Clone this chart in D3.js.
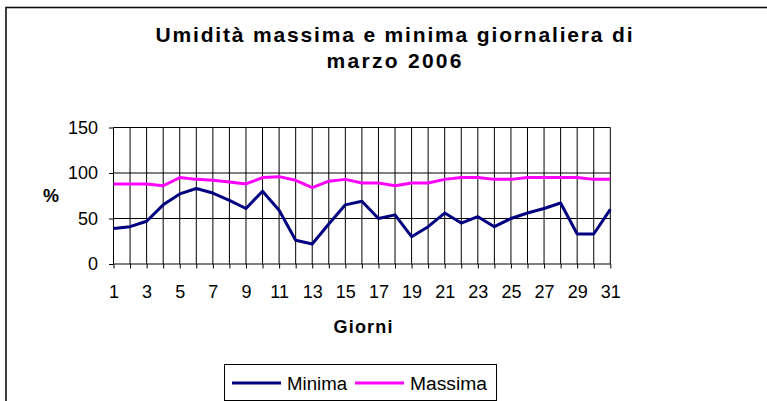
<!DOCTYPE html>
<html>
<head>
<meta charset="utf-8">
<script src="https://cdn.jsdelivr.net/npm/d3@7"></script>
<style>
    body { margin: 0; background: #fff; }
    svg { display: block; font-family: "Liberation Sans", Arial, sans-serif; }
    .axis text { font-size: 18px; fill: #000; }
    .axis line, .axis .domain { stroke: #000; }
    .grid line { stroke: #000; stroke-width: 1; }
    .line { fill: none; stroke-width: 3px; stroke-linejoin: round; }
    .title { font-size: 21px; font-weight: bold; text-anchor: middle; }
</style>
</head>
<body>
<svg id="chart" width="767" height="401"></svg>
<script>
// giorni di marzo 2006
const days = d3.range(1, 32);
const minima = [39, 41, 47, 65, 77, 83, 78, 70, 61, 80, 59, 26, 22, 44, 65, 69,
                50, 54, 30, 41, 56, 45, 52, 41, 50, 56, 61, 67, 33, 33, 60];
const massima = [88, 88, 88, 86, 95, 93, 92, 90, 88, 95, 96, 92, 84, 91, 93, 89,
                 89, 86, 89, 89, 93, 95, 95, 93, 93, 95, 95, 95, 95, 93, 93];
const yTicks = [0, 50, 100, 150];
const titleLines = ["Umidità massima e minima giornaliera di", "marzo 2006"];
const seriesNames = ["Minima", "Massima"];
const seriesColors = ["#000080", "#ff00ff"];

const svg = d3.select("#chart");

// outer frame (only top and left edges are in the picture)
svg.append("rect")
    .attr("x", 6).attr("y", 7.5)
    .attr("width", 900).attr("height", 600)
    .attr("fill", "none").attr("stroke", "#111").attr("stroke-width", 1.6);

const x = d3.scaleLinear().domain([1, 31]).range([113.5, 610.3]);
const y = d3.scaleLinear().domain([0, 150]).range([264, 127.5]);

// gridlines
const grid = svg.append("g").attr("class", "grid");
grid.selectAll("line.v").data(days.slice(1)).enter()
    .append("line").attr("class", "v")
    .attr("x1", d => x(d)).attr("x2", d => x(d))
    .attr("y1", y(150)).attr("y2", y(0));
grid.selectAll("line.h").data(yTicks.slice(1)).enter()
    .append("line").attr("class", "h")
    .attr("x1", x(1)).attr("x2", x(31))
    .attr("y1", d => y(d)).attr("y2", d => y(d))
    .attr("stroke", "#444");

// axes
svg.append("g").attr("class", "x axis")
    .attr("transform", "translate(0," + y(0) + ")")
    .call(d3.axisBottom(x).tickValues(days).tickSize(4.5).tickPadding(16.5)
        .tickFormat(d => d % 2 ? d : ""));
svg.append("g").attr("class", "y axis")
    .attr("transform", "translate(" + x(1) + ",0)")
    .call(d3.axisLeft(y).tickValues(yTicks).tickSize(4.5).tickPadding(11));
svg.selectAll(".axis .domain").remove();
svg.append("line").attr("x1", x(1)).attr("x2", x(1)).attr("y1", y(150)).attr("y2", y(0)).attr("stroke", "#000");
svg.append("line").attr("x1", x(1)).attr("x2", x(31)).attr("y1", y(0)).attr("y2", y(0)).attr("stroke", "#000");

// series
const line = d3.line().x((d, i) => x(days[i])).y(d => y(d));
[minima, massima].forEach((vals, i) => {
    svg.append("path").attr("class", "line")
        .attr("stroke", seriesColors[i])
        .attr("d", line(vals));
});

// title
svg.selectAll("text.title").data(titleLines).enter()
    .append("text").attr("class", "title")
    .attr("x", 394)
    .attr("y", (d, i) => 41.5 + i * 26.8)
    .attr("textLength", (d, i) => i ? 135 : 477)
    .attr("lengthAdjust", "spacing")
    .text(d => d);

// axis titles
svg.append("text").attr("x", 51).attr("y", 201.5)
    .attr("text-anchor", "middle").attr("font-size", 18).attr("font-weight", "bold")
    .text("%");
svg.append("text").attr("x", 363).attr("y", 333)
    .attr("text-anchor", "middle").attr("font-size", 18).attr("font-weight", "bold")
    .attr("textLength", 59).attr("lengthAdjust", "spacing")
    .text("Giorni");

// legend
const legend = svg.append("g");
legend.append("rect")
    .attr("x", 224.5).attr("y", 364.5).attr("width", 272).attr("height", 36)
    .attr("fill", "#fff").attr("stroke", "#000");
const legendX = [232, 355];
const legendW = [60, 77];
seriesNames.forEach((name, i) => {
    legend.append("line")
        .attr("x1", legendX[i]).attr("x2", legendX[i] + 49)
        .attr("y1", 383).attr("y2", 383)
        .attr("stroke", seriesColors[i]).attr("stroke-width", 3);
    legend.append("text")
        .attr("x", legendX[i] + 55).attr("y", 390)
        .attr("font-size", 18)
        .attr("textLength", legendW[i]).attr("lengthAdjust", "spacingAndGlyphs")
        .text(name);
});
</script>
</body>
</html>
